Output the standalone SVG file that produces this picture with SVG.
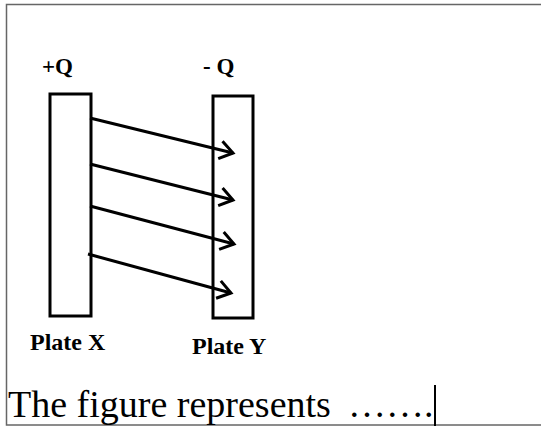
<svg xmlns="http://www.w3.org/2000/svg" width="541" height="427" viewBox="0 0 541 427">
<style>
.plate{fill:#fff;stroke:#000;stroke-width:3}
.lbl{font-family:"Liberation Serif","Times New Roman",serif;font-weight:bold;fill:#000}
.arr{stroke:#000;stroke-width:3;fill:none}
.cap{font-family:"Liberation Serif","Times New Roman",serif;font-size:38px;fill:#000}
</style>
<defs>
<marker id="ah" markerUnits="userSpaceOnUse" markerWidth="24" markerHeight="24" refX="16" refY="12" orient="auto" viewBox="0 0 24 24">
<path d="M3,3 L16,12 L3,21" fill="none" stroke="#000" stroke-width="3"/>
</marker>
</defs>
<rect x="0" y="0" width="541" height="427" fill="#fff"/>
<rect x="6.5" y="4.5" width="545" height="420.5" fill="none" stroke="#666" stroke-width="1.5"/>
<text class="lbl" x="42" y="74" font-size="23">+Q</text>
<text class="lbl" x="203" y="74" font-size="23">- Q</text>
<g id="plateX">
<rect class="plate" x="50" y="94" width="41" height="222"/>
<text class="lbl" x="30" y="350" font-size="24">Plate X</text>
</g>
<g id="plateY">
<rect class="plate" x="213" y="96" width="40" height="222"/>
<text class="lbl" x="192" y="354" font-size="24">Plate Y</text>
</g>
<g id="connectors">
<line class="arr" x1="90" y1="118" x2="233" y2="153" marker-end="url(#ah)"/>
<line class="arr" x1="90" y1="164" x2="233" y2="200" marker-end="url(#ah)"/>
<line class="arr" x1="90" y1="206" x2="234" y2="244" marker-end="url(#ah)"/>
<line class="arr" x1="88" y1="254" x2="231" y2="293" marker-end="url(#ah)"/>
</g>
<text class="cap" x="8" y="417">The figure represents <tspan x="348">…….</tspan></text>
<line x1="435" y1="385" x2="435" y2="426" stroke="#000" stroke-width="2"/>
</svg>
